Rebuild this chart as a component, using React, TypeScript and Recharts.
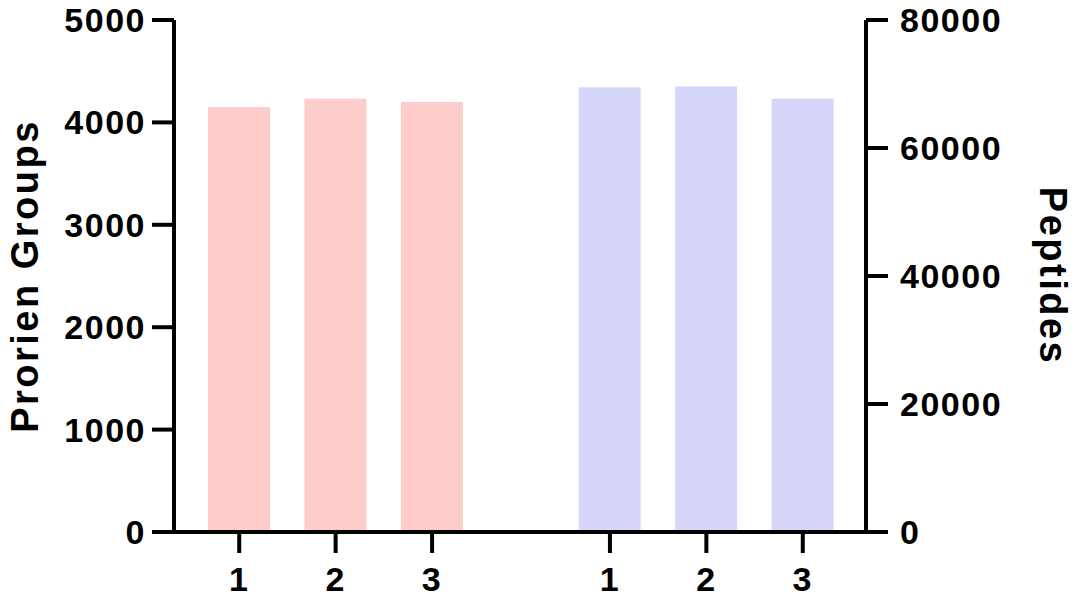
import { BarChart, Bar, XAxis, YAxis } from "recharts";

// replicate numbers
const replicates = ["1", "2", "3"];
const proteinGroups = [4150, 4230, 4200];
const peptides = [69500, 69600, 67700];

const leftTicks = [0, 1000, 2000, 3000, 4000, 5000];
const rightTicks = [0, 20000, 40000, 60000, 80000];

// one empty slot separates the two groups
const data = [
  ...replicates.map((label, i) => ({ label, groups: proteinGroups[i], peptides: null as number | null })),
  { label: "", groups: null as number | null, peptides: null as number | null },
  ...replicates.map((label, i) => ({ label, groups: null as number | null, peptides: peptides[i] })),
];

const FONT = "'Liberation Sans', Arial, sans-serif";
const tickStyle = { fontSize: 34, fontWeight: 700, fill: "#000", fontFamily: FONT, letterSpacing: 1.5 };

function makeXTick(show: (i: number) => boolean, shift: number) {
  return function XTick(props: any) {
    const { x, y, payload, index } = props;
    if (!show(index)) return <g />;
    const y0 = y + shift;
    return (
      <g>
        <line x1={x} x2={x} y1={y0} y2={y0 + 21} stroke="#000" strokeWidth={4} />
        <text x={x} y={y0 + 35} dy="0.71em" textAnchor="middle" {...tickStyle}>
          {payload.value}
        </text>
      </g>
    );
  };
}

const PgTick = makeXTick((i) => i < 3, -1);
const PepTick = makeXTick((i) => i > 3, 0);

function AxisTitle({ viewBox, dx, angle, text }: any) {
  const cx = viewBox.x + dx;
  const cy = viewBox.y + viewBox.height / 2;
  return (
    <text
      x={cx}
      y={cy}
      transform={`rotate(${angle}, ${cx}, ${cy})`}
      textAnchor="middle"
      dominantBaseline="central"
      fontSize={38}
      fontWeight={700}
      fontFamily={FONT}
      letterSpacing={2.5}
      fill="#000"
    >
      {text}
    </text>
  );
}

export default function App() {
  return (
    <div style={{ position: "absolute", left: 0, top: 0, background: "#fff" }}>
      <BarChart width={1076} height={607} data={data} margin={{ top: 20, right: 0, bottom: 0, left: 0 }}>
        <XAxis
          xAxisId="pg"
          dataKey="label"
          height={74}
          padding={{ left: 17, right: 0 }}
          axisLine={false}
          tickLine={false}
          tickSize={0}
          tickMargin={0}
          interval={0}
          tick={<PgTick />}
        />
        <XAxis
          xAxisId="pep"
          dataKey="label"
          height={1}
          padding={{ left: 2, right: 15 }}
          axisLine={{ stroke: "#000", strokeWidth: 4 }}
          tickLine={false}
          tickSize={0}
          tickMargin={0}
          interval={0}
          tick={<PepTick />}
        />
        <YAxis
          yAxisId="left"
          width={174}
          domain={[0, 5000]}
          ticks={leftTicks}
          interval={0}
          tickSize={22}
          tickMargin={6}
          axisLine={{ stroke: "#000", strokeWidth: 4 }}
          tickLine={{ stroke: "#000", strokeWidth: 4 }}
          tick={tickStyle}
          label={{ content: (p: any) => <AxisTitle viewBox={p.viewBox} dx={25} angle={-90} text="Prorien Groups" /> }}
        />
        <YAxis
          yAxisId="right"
          orientation="right"
          width={210}
          domain={[0, 80000]}
          ticks={rightTicks}
          interval={0}
          tickSize={22}
          tickMargin={12}
          axisLine={{ stroke: "#000", strokeWidth: 4 }}
          tickLine={{ stroke: "#000", strokeWidth: 4 }}
          tick={tickStyle}
          label={{ content: (p: any) => <AxisTitle viewBox={p.viewBox} dx={187} angle={90} text="Peptides" /> }}
        />
        <Bar xAxisId="pg" yAxisId="left" dataKey="groups" fill="#FFCCCC" barSize={62} isAnimationActive={false} />
        <Bar xAxisId="pep" yAxisId="right" dataKey="peptides" fill="#D6D6FA" barSize={62} isAnimationActive={false} />
      </BarChart>
    </div>
  );
}
